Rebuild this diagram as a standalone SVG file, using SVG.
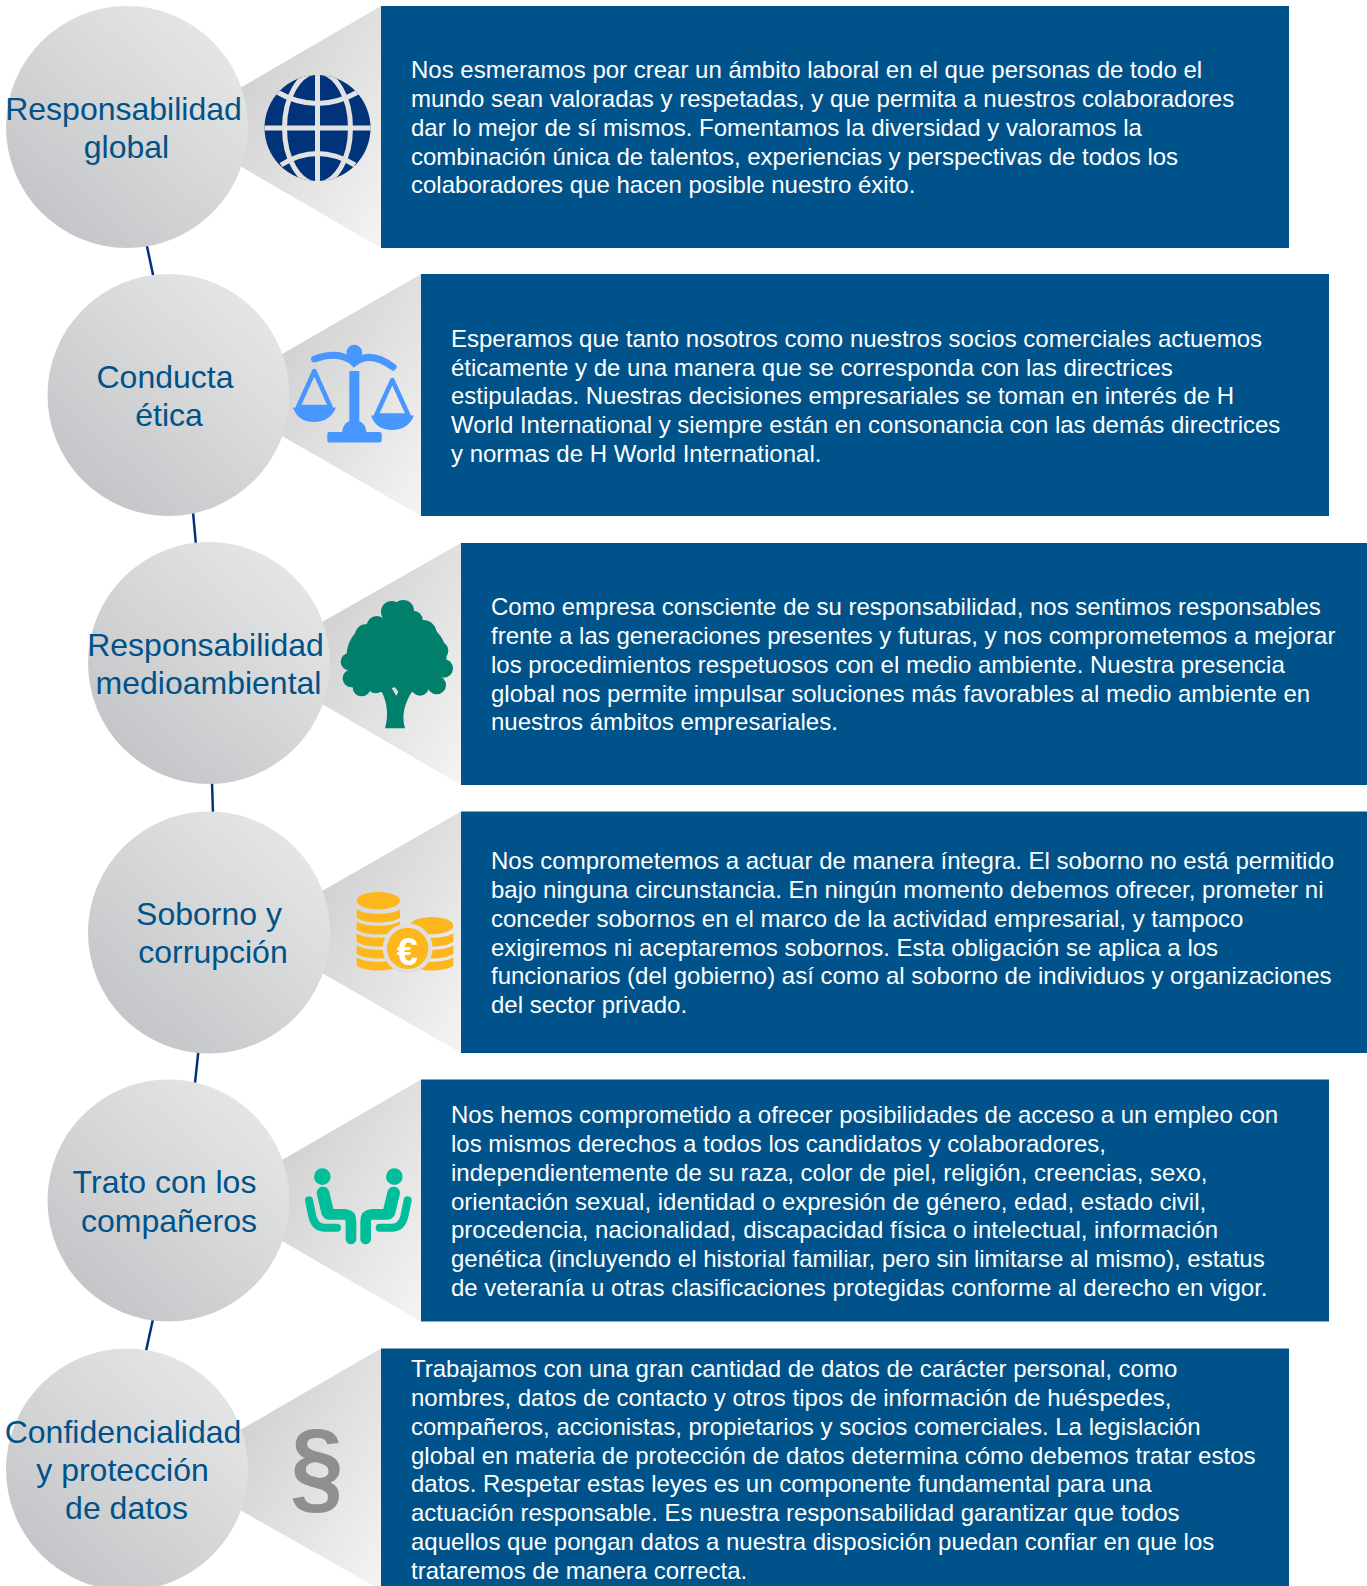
<svg xmlns="http://www.w3.org/2000/svg" xmlns:xlink="http://www.w3.org/1999/xlink" width="1367" height="1586" viewBox="0 0 1367 1586">
<style>
text{font-family:"Liberation Sans",Arial,sans-serif}
.b{fill:#fff;font-size:24px}
.l{fill:#005288;font-size:32px;text-anchor:middle}
.box{fill:#00538A}
.c{fill:url(#cg)}
.t{fill:url(#tg)}
.con{stroke:#00337A;stroke-width:2.500;fill:none}
</style>
<defs>
<linearGradient id="cg" x1="0.85" y1="0.12" x2="0.15" y2="0.88"><stop offset="0" stop-color="#E4E6E6"/><stop offset="1" stop-color="#C4C5C8"/></linearGradient>
<linearGradient id="tg" x1="0" y1="0" x2="1" y2="1"><stop offset="0" stop-color="#CBCBCC"/><stop offset="1" stop-color="#F4F4F4"/></linearGradient>
<clipPath id="globe-clip"><circle cx="317.500" cy="128" r="53"/></clipPath>
<g id="person"><circle cx="82" cy="65" r="25"/><path d="M84 114L98 172" fill="none" stroke="currentColor" stroke-width="38" stroke-linecap="round"/><path d="M100 178L150 178Q168 180 168 198V252" fill="none" stroke="currentColor" stroke-width="32" stroke-linecap="round" stroke-linejoin="round"/><path d="M42 136L52 184Q60 218 90 218H126" fill="none" stroke="currentColor" stroke-width="24" stroke-linecap="round" stroke-linejoin="round"/></g>
<path id="band" d="M35 0C60 18 140 18 165 0V25C140 44 60 44 35 25Z"/>
</defs>
<rect width="1367" height="1586" fill="#fff"/>
<g id="connectors">
<path class="con" d="M146.500 244L153.500 277"/>
<path class="con" d="M193 512L196 545"/>
<path class="con" d="M212 782L213 814"/>
<path class="con" d="M198.500 1050L195 1083"/>
<path class="con" d="M153 1319L146 1351"/>
</g>
<g id="node-1">
<polygon class="t" points="381,6 240,88 240,166 381,248"/>
<circle class="c" cx="127" cy="127" r="121"/>
<rect class="box" x="381" y="6" width="908" height="242"/>
<text class="l"><tspan x="123.500" y="119.500">Responsabilidad</tspan><tspan x="126.500" y="157.500">global</tspan></text>
<g id="icon-globe"><circle cx="317.500" cy="128" r="53" fill="#00337A"/><g clip-path="url(#globe-clip)" fill="none" stroke="#E2E2E2" stroke-width="5"><path d="M264 128H371M317.500 74V182"/><ellipse cx="317.500" cy="128" rx="33" ry="56"/><path d="M277 92Q317 115 358 92M281 165Q317 142 355 165"/></g></g>
<text class="b"><tspan x="411" y="78">Nos esmeramos por crear un ámbito laboral en el que personas de todo el</tspan><tspan x="411" y="107">mundo sean valoradas y respetadas, y que permita a nuestros colaboradores</tspan><tspan x="411" y="136">dar lo mejor de sí mismos. Fomentamos la diversidad y valoramos la</tspan><tspan x="411" y="165">combinación única de talentos, experiencias y perspectivas de todos los</tspan><tspan x="411" y="193">colaboradores que hacen posible nuestro éxito.</tspan></text>
</g>
<g id="node-2">
<polygon class="t" points="421,274 282,354 282,436 421,516"/>
<circle class="c" cx="168.500" cy="395" r="121"/>
<rect class="box" x="421" y="274" width="908" height="242"/>
<text class="l"><tspan x="165" y="387.500">Conducta</tspan><tspan x="169" y="426">ética</tspan></text>
<g id="icon-scales" fill="#4896FF"><circle cx="354.300" cy="352.500" r="7.800"/><path d="M314.500 359Q340 350 354 363Q370 350 393 367" fill="none" stroke="#4896FF" stroke-width="7" stroke-linecap="round"/><rect x="349.300" y="371" width="10" height="55"/><path d="M342.300 432A12 12 0 0 1 366.300 432Z"/><rect x="327.300" y="432" width="54.400" height="10.500" rx="2"/><path d="M314.300 371L298 407H330.500Z" fill="none" stroke="#4896FF" stroke-width="4.500" stroke-linejoin="round"/><path d="M293 407.500H336Q330 422 314 422Q298 422 293 407.500Z"/><path d="M392.300 380L376 415.500H408.500Z" fill="none" stroke="#4896FF" stroke-width="4.500" stroke-linejoin="round"/><path d="M371 415.500H414Q408 430 392 430Q376 430 371 415.500Z"/></g>
<text class="b"><tspan x="451" y="347">Esperamos que tanto nosotros como nuestros socios comerciales actuemos</tspan><tspan x="451" y="375.500">éticamente y de una manera que se corresponda con las directrices</tspan><tspan x="451" y="404">estipuladas. Nuestras decisiones empresariales se toman en interés de H</tspan><tspan x="451" y="433">World International y siempre están en consonancia con las demás directrices</tspan><tspan x="451" y="462">y normas de H World International.</tspan></text>
</g>
<g id="node-3">
<polygon class="t" points="461,543 322,622 322,704 461,785"/>
<circle class="c" cx="209" cy="663" r="121"/>
<rect class="box" x="461" y="543" width="906" height="242"/>
<text class="l"><tspan x="205.500" y="655.500">Responsabilidad</tspan><tspan x="208.500" y="694">medioambiental</tspan></text>
<g id="icon-tree" fill="#00806A" transform="translate(335 590) scale(.3333)"><circle cx="170" cy="65" r="32"/><circle cx="205" cy="62" r="32"/><circle cx="235" cy="90" r="28"/><circle cx="265" cy="130" r="40"/><circle cx="125" cy="108" r="30"/><circle cx="92" cy="135" r="32"/><circle cx="70" cy="190" r="32"/><circle cx="43" cy="215" r="26"/><circle cx="312" cy="182" r="28"/><circle cx="326" cy="235" r="28"/><circle cx="305" cy="285" r="28"/><circle cx="255" cy="290" r="27"/><circle cx="50" cy="265" r="27"/><circle cx="80" cy="292" r="27"/><circle cx="122" cy="285" r="25"/><ellipse cx="185" cy="195" rx="150" ry="118"/><circle cx="185" cy="285" r="25"/><path d="M135 295C160 340 160 380 150 415H210C200 380 205 340 238 295Z"/><path d="M170 294L180 292L190 305L184 318Z" fill="#DEDEDE"/></g>
<text class="b"><tspan x="491" y="615">Como empresa consciente de su responsabilidad, nos sentimos responsables</tspan><tspan x="491" y="644">frente a las generaciones presentes y futuras, y nos comprometemos a mejorar</tspan><tspan x="491" y="673">los procedimientos respetuosos con el medio ambiente. Nuestra presencia</tspan><tspan x="491" y="702">global nos permite impulsar soluciones más favorables al medio ambiente en</tspan><tspan x="491" y="730">nuestros ámbitos empresariales.</tspan></text>
</g>
<g id="node-4">
<polygon class="t" points="461,811.500 322,891 322,973 461,1053"/>
<circle class="c" cx="209" cy="932.500" r="121"/>
<rect class="box" x="461" y="811.500" width="906" height="241.500"/>
<text class="l"><tspan x="209" y="925">Soborno y</tspan><tspan x="213" y="963">corrupción</tspan></text>
<g id="icon-coins"><g fill="#FDB71C" transform="translate(345 880) scale(.3333)"><ellipse cx="100" cy="62" rx="65" ry="26"/><use xlink:href="#band" href="#band" y="88"/><use xlink:href="#band" href="#band" y="124"/><use xlink:href="#band" href="#band" y="160"/><use xlink:href="#band" href="#band" y="196"/><use xlink:href="#band" href="#band" y="232"/><ellipse cx="260" cy="137" rx="65" ry="26"/><use xlink:href="#band" href="#band" x="160" y="160"/><use xlink:href="#band" href="#band" x="160" y="196"/><use xlink:href="#band" href="#band" x="160" y="232"/><circle cx="188" cy="205" r="75" fill="#DFDFDF"/><circle cx="188" cy="205" r="62"/></g><text x="407.300" y="964.500" fill="#fff" font-size="38" font-weight="700" text-anchor="middle">€</text></g>
<text class="b"><tspan x="491" y="869">Nos comprometemos a actuar de manera íntegra. El soborno no está permitido</tspan><tspan x="491" y="898">bajo ninguna circunstancia. En ningún momento debemos ofrecer, prometer ni</tspan><tspan x="491" y="927">conceder sobornos en el marco de la actividad empresarial, y tampoco</tspan><tspan x="491" y="956">exigiremos ni aceptaremos sobornos. Esta obligación se aplica a los</tspan><tspan x="491" y="984">funcionarios (del gobierno) así como al soborno de individuos y organizaciones</tspan><tspan x="491" y="1013">del sector privado.</tspan></text>
</g>
<g id="node-5">
<polygon class="t" points="421,1079.500 282,1160 282,1241 421,1321.500"/>
<circle class="c" cx="168.500" cy="1200.500" r="121"/>
<rect class="box" x="421" y="1079.500" width="908" height="242"/>
<text class="l"><tspan x="164.500" y="1192.500">Trato con los</tspan><tspan x="169" y="1231.500">compañeros</tspan></text>
<g id="icon-people" fill="#00BE9A" color="#00BE9A" transform="translate(295 1155) scale(.3333)"><use xlink:href="#person" href="#person"/><use xlink:href="#person" href="#person" transform="translate(380 0) scale(-1 1)"/></g>
<text class="b"><tspan x="451" y="1123">Nos hemos comprometido a ofrecer posibilidades de acceso a un empleo con</tspan><tspan x="451" y="1152">los mismos derechos a todos los candidatos y colaboradores,</tspan><tspan x="451" y="1181">independientemente de su raza, color de piel, religión, creencias, sexo,</tspan><tspan x="451" y="1209.500">orientación sexual, identidad o expresión de género, edad, estado civil,</tspan><tspan x="451" y="1238">procedencia, nacionalidad, discapacidad física o intelectual, información</tspan><tspan x="451" y="1267">genética (incluyendo el historial familiar, pero sin limitarse al mismo), estatus</tspan><tspan x="451" y="1296">de veteranía u otras clasificaciones protegidas conforme al derecho en vigor.</tspan></text>
</g>
<g id="node-6">
<polygon class="t" points="381,1348.500 240,1430 240,1510 381,1590"/>
<circle class="c" cx="127" cy="1469.500" r="121"/>
<rect class="box" x="381" y="1348.500" width="908" height="241.500"/>
<text class="l"><tspan x="123" y="1443">Confidencialidad</tspan><tspan x="122.500" y="1481">y protección</tspan><tspan x="126.500" y="1519">de datos</tspan></text>
<text id="icon-section" transform="translate(317 1501) scale(1 1.08)" fill="#8E8F91" font-size="96" font-weight="700" text-anchor="middle">§</text>
<text class="b"><tspan x="411" y="1377">Trabajamos con una gran cantidad de datos de carácter personal, como</tspan><tspan x="411" y="1406">nombres, datos de contacto y otros tipos de información de huéspedes,</tspan><tspan x="411" y="1434.500">compañeros, accionistas, propietarios y socios comerciales. La legislación</tspan><tspan x="411" y="1463.500">global en materia de protección de datos determina cómo debemos tratar estos</tspan><tspan x="411" y="1492">datos. Respetar estas leyes es un componente fundamental para una</tspan><tspan x="411" y="1521">actuación responsable. Es nuestra responsabilidad garantizar que todos</tspan><tspan x="411" y="1550">aquellos que pongan datos a nuestra disposición puedan confiar en que los</tspan><tspan x="411" y="1579">trataremos de manera correcta.</tspan></text>
</g>
</svg>
